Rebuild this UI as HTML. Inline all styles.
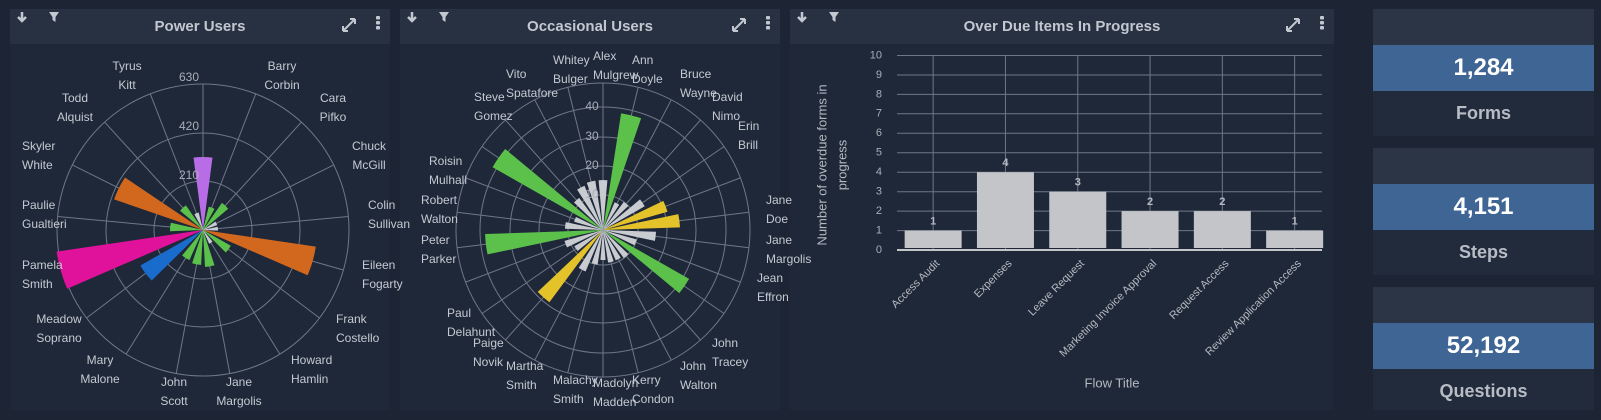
<!DOCTYPE html>
<html><head><meta charset="utf-8"><style>
*{margin:0;padding:0;box-sizing:border-box}
body{width:1601px;height:420px;background:#1d2535;font-family:"Liberation Sans",sans-serif;position:relative;overflow:hidden}
.panel{position:absolute;top:9px;height:401px;background:#1f2839}
.hdr{position:absolute;left:0;top:0;right:0;height:35px;background:#283142;color:#c3c8d0;font-weight:bold;font-size:15px;text-align:center;line-height:35px}
.card{position:absolute;left:1373px;width:221px;background:#222b3b}
.card .ch{height:36px;background:#2c3545}
.card .cb{height:46px;background:#3e6594;color:#fff;font-weight:bold;font-size:24px;text-align:center;line-height:46px}
.card .cl{color:#b7bcc5;font-weight:bold;font-size:18px;text-align:center;line-height:44px}
svg{position:absolute;left:0;top:0}
</style></head><body>
<div class="panel" style="left:10px;width:380px"><div class="hdr">Power Users</div></div>
<div class="panel" style="left:400px;width:380px"><div class="hdr">Occasional Users</div></div>
<div class="panel" style="left:790px;width:544px"><div class="hdr">Over Due Items In Progress</div></div>
<div class="card" style="top:9px;height:127px"><div class="ch"></div><div class="cb">1,284</div><div class="cl">Forms</div></div>
<div class="card" style="top:148px;height:127px"><div class="ch"></div><div class="cb">4,151</div><div class="cl">Steps</div></div>
<div class="card" style="top:287px;height:123px"><div class="ch"></div><div class="cb">52,192</div><div class="cl">Questions</div></div>
<svg id="s" width="1601" height="420" font-family="Liberation Sans, sans-serif"></svg>
<script>
(function(){
var s=document.getElementById('s'),h='';
function P(cx,cy,r,b){var a=b*Math.PI/180;return [cx+r*Math.sin(a),cy-r*Math.cos(a)];}
function wedge(cx,cy,r,b1,b2,c){var p1=P(cx,cy,r,b1),p2=P(cx,cy,r,b2);h+='<path d="M'+cx+','+cy+'L'+p1[0].toFixed(1)+','+p1[1].toFixed(1)+'A'+r+','+r+' 0 0 1 '+p2[0].toFixed(1)+','+p2[1].toFixed(1)+'Z" fill="'+c+'"/>';}
function grid(cx,cy,R,n,rings){for(var i=0;i<rings.length;i++)h+='<circle cx="'+cx+'" cy="'+cy+'" r="'+rings[i]+'" fill="none" stroke="#6f7787" stroke-width="1"/>';
for(var i=0;i<n;i++){var p=P(cx,cy,R,i*360/n);h+='<line x1="'+cx+'" y1="'+cy+'" x2="'+p[0].toFixed(1)+'" y2="'+p[1].toFixed(1)+'" stroke="#6f7787" stroke-width="1"/>';}}
function lab(x,y,t1,t2,anc){h+='<text x="'+x+'" y="'+y+'" fill="#c5cad2" font-size="12" text-anchor="'+(anc||'start')+'" dominant-baseline="middle">'+t1+'</text><text x="'+x+'" y="'+(y+19)+'" fill="#c5cad2" font-size="12" text-anchor="'+(anc||'start')+'" dominant-baseline="middle">'+t2+'</text>';}
var G='#5cc14a',W='#c8cbd0';
grid(203,230,146,17,[49,97,146]);
var d1=[[73,'#b86de6'],[24,G],[33,G],[15,W],[15,W],[114,'#d2681e'],[32,G],[15,W],[37,G],[35,G],[33,G],[72,'#1a6ccc'],[148,'#e0119a'],[33,G],[94,'#d2681e'],[30,G],[18,W]];
for(var i=0;i<17;i++){var c=i*360/17;wedge(203,230,d1[i][0],c-7.5,c+7.5,d1[i][1]);}
[['630',78],['420',127],['210',176]].forEach(function(t){h+='<text x="189" y="'+t[1]+'" fill="#a9aeb7" font-size="12" text-anchor="middle" dominant-baseline="middle">'+t[0]+'</text>';});
lab(127,67,'Tyrus','Kitt','middle');lab(282,67,'Barry','Corbin','middle');lab(333,99,'Cara','Pifko','middle');lab(369,147,'Chuck','McGill','middle');
lab(368,206,'Colin','Sullivan');lab(362,266,'Eileen','Fogarty');lab(336,320,'Frank','Costello');lab(291,361,'Howard','Hamlin');
lab(239,383,'Jane','Margolis','middle');lab(174,383,'John','Scott','middle');lab(100,361,'Mary','Malone','middle');lab(59,320,'Meadow','Soprano','middle');
lab(22,266,'Pamela','Smith');lab(22,206,'Paulie','Gualtieri');lab(22,147,'Skyler','White');lab(75,99,'Todd','Alquist','middle');
var Y='#e3c22a';
grid(603,230,147,26,[35,64,93,123,147]);
var d2=[[50,W],[118,G],[30,W],[35,W],[48,W],[67,Y],[77,Y],[53,W],[35,W],[99,G],[35,W],[33,W],[33,W],[30,W],[35,W],[45,W],[90,Y],[33,W],[40,W],[118,G],[38,W],[30,W],[127,G],[40,W],[48,W],[50,W]];
for(var i=0;i<26;i++){var c=i*360/26;wedge(603,230,d2[i][0],c-5,c+5,d2[i][1]);}
[['40',107],['30',137],['20',166],['10',195]].forEach(function(t){h+='<text x="592" y="'+t[1]+'" fill="#a9aeb7" font-size="12" text-anchor="middle" dominant-baseline="middle">'+t[0]+'</text>';});
lab(593,57,'Alex','Mulgrew');lab(553,61,'Whitey','Bulger');lab(632,61,'Ann','Doyle');lab(680,75,'Bruce','Wayne');lab(712,98,'David','Nimo');lab(738,127,'Erin','Brill');
lab(506,75,'Vito','Spatafore');lab(474,98,'Steve','Gomez');lab(429,162,'Roisin','Mulhall');lab(421,201,'Robert','Walton');lab(421,241,'Peter','Parker');
lab(447,314,'Paul','Delahunt');lab(473,344,'Paige','Novik');lab(506,367,'Martha','Smith');lab(553,381,'Malachy','Smith');lab(593,384,'Madolyn','Madden');
lab(632,381,'Kerry','Condon');lab(680,367,'John','Walton');lab(712,344,'John','Tracey');lab(757,279,'Jean','Effron');lab(766,241,'Jane','Margolis');lab(766,201,'Jane','Doe');
var x0=897,cw=72.3,y0=250,u=19.45;
for(var k=0;k<=10;k++){var y=y0-k*u;h+='<line x1="'+x0+'" y1="'+y.toFixed(1)+'" x2="1322" y2="'+y.toFixed(1)+'" stroke="#6f7787"/>';h+='<text x="882" y="'+y.toFixed(1)+'" fill="#a9aeb7" font-size="11" text-anchor="end" dominant-baseline="middle">'+k+'</text>';}
var cats=['Access Audit','Expenses','Leave Request','Marketing Invoice Approval','Request Access','Review Application Access'],vals=[1,4,3,2,2,1];
for(var i=0;i<6;i++){var cx=x0+cw*(i+0.5);h+='<line x1="'+cx+'" y1="56" x2="'+cx+'" y2="'+y0+'" stroke="#6f7787"/>';
var bt=y0-vals[i]*u;h+='<rect x="'+(cx-28.5)+'" y="'+bt+'" width="57" height="'+(y0-bt-2)+'" fill="#c3c5c9"/>';
h+='<text x="'+cx+'" y="'+(bt-9)+'" fill="#b5b9c0" font-size="11" font-weight="bold" text-anchor="middle" dominant-baseline="middle">'+vals[i]+'</text>';
h+='<text transform="translate('+(cx+5)+',262) rotate(-45)" fill="#b5b9c0" font-size="11" text-anchor="end" dominant-baseline="middle">'+cats[i]+'</text>';}
h+='<line x1="'+x0+'" y1="'+y0+'" x2="1322" y2="'+y0+'" stroke="#c3c5c9" stroke-width="2"/>';
h+='<text transform="translate(823,165) rotate(-90)" fill="#b5b9c0" font-size="13" text-anchor="middle" dominant-baseline="middle">Number of overdue forms in</text>';
h+='<text transform="translate(843,165) rotate(-90)" fill="#b5b9c0" font-size="13" text-anchor="middle" dominant-baseline="middle">progress</text>';
h+='<text x="1112" y="384" fill="#b5b9c0" font-size="13" text-anchor="middle" dominant-baseline="middle">Flow Title</text>';
[10,400,790].forEach(function(px,j){var w=j==2?544:380;
h+='<path d="M'+(px+12)+',12 v8 M'+(px+8)+',17 l4,4 l4,-4" stroke="#c3c8d0" stroke-width="2.5" fill="none"/>';
h+='<path d="M'+(px+39)+',12 h10 l-3.5,5 v5 l-3,-2 v-3 Z" fill="#c3c8d0"/>';
var ex=px+w-47;h+='<path d="M'+ex+',31 l12,-12 M'+ex+',31 v-5 M'+ex+',31 h5 M'+(ex+12)+',19 h-5 M'+(ex+12)+',19 v5" stroke="#c3c8d0" stroke-width="2" fill="none"/>';
var kx=px+w-12;for(var q=0;q<3;q++)h+='<rect x="'+(kx-2)+'" y="'+(16+q*5)+'" width="4" height="3.5" rx="1" fill="#c3c8d0"/>';});
s.innerHTML=h;
})();
</script>
</body></html>
